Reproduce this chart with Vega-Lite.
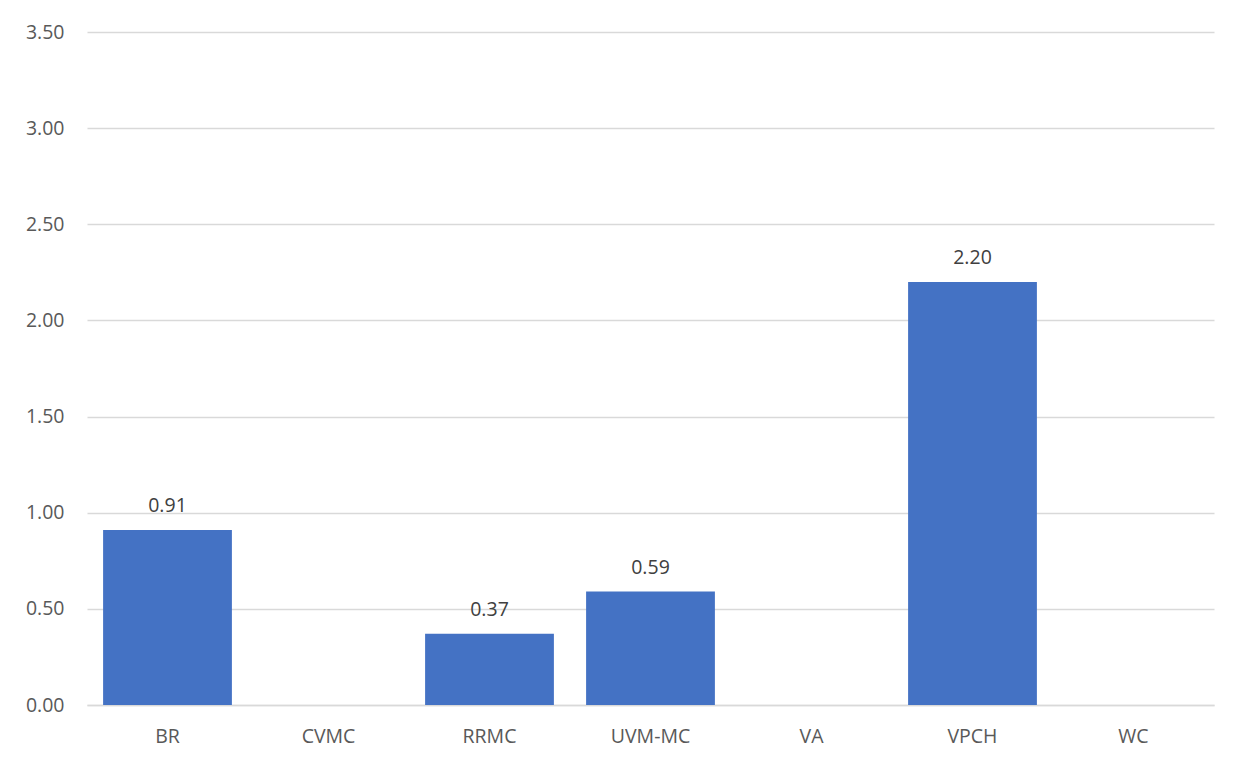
{
  "$schema": "https://vega.github.io/schema/vega-lite/v6.json",
  "width": 1127,
  "height": 673,
  "autosize": {"type": "none"},
  "padding": {"left": 87, "top": 32, "right": 29, "bottom": 58},
  "background": "white",
  "config": {"view": {"stroke": null}, "font": "Open Sans"},
  "data": {"values": [
    {"site": "BR", "value": 0.91},
    {"site": "CVMC", "value": null},
    {"site": "RRMC", "value": 0.37},
    {"site": "UVM-MC", "value": 0.59},
    {"site": "VA", "value": null},
    {"site": "VPCH", "value": 2.20},
    {"site": "WC", "value": null}
  ]},
  "encoding": {
    "x": {"field": "site", "type": "nominal",
      "scale": {"domain": ["BR", "CVMC", "RRMC", "UVM-MC", "VA", "VPCH", "WC"], "paddingInner": 0.2, "paddingOuter": 0.1},
      "axis": {"title": null, "labelAngle": 0, "labelFontSize": 19.5, "labelColor": "#595959", "labelPadding": 22, "ticks": false, "domainColor": "#d9d9d9", "domainWidth": 1.5, "labelFont": "Open Sans"}},
    "y": {"field": "value", "type": "quantitative",
      "scale": {"domain": [0, 3.5]},
      "axis": {"title": null, "values": [0, 0.5, 1, 1.5, 2, 2.5, 3, 3.5], "format": ".2f", "labelFontSize": 19.5, "labelColor": "#595959", "labelPadding": 23, "ticks": false, "domain": false, "gridColor": "#d9d9d9", "gridWidth": 1.5, "labelFont": "Open Sans"}}
  },
  "layer": [
    {"mark": {"type": "bar", "color": "#4472C4"}},
    {"mark": {"type": "text", "dy": -24, "fontSize": 19.5, "color": "#404040", "font": "Open Sans"},
     "encoding": {"text": {"field": "value", "type": "quantitative", "format": ".2f"}}}
  ]
}
